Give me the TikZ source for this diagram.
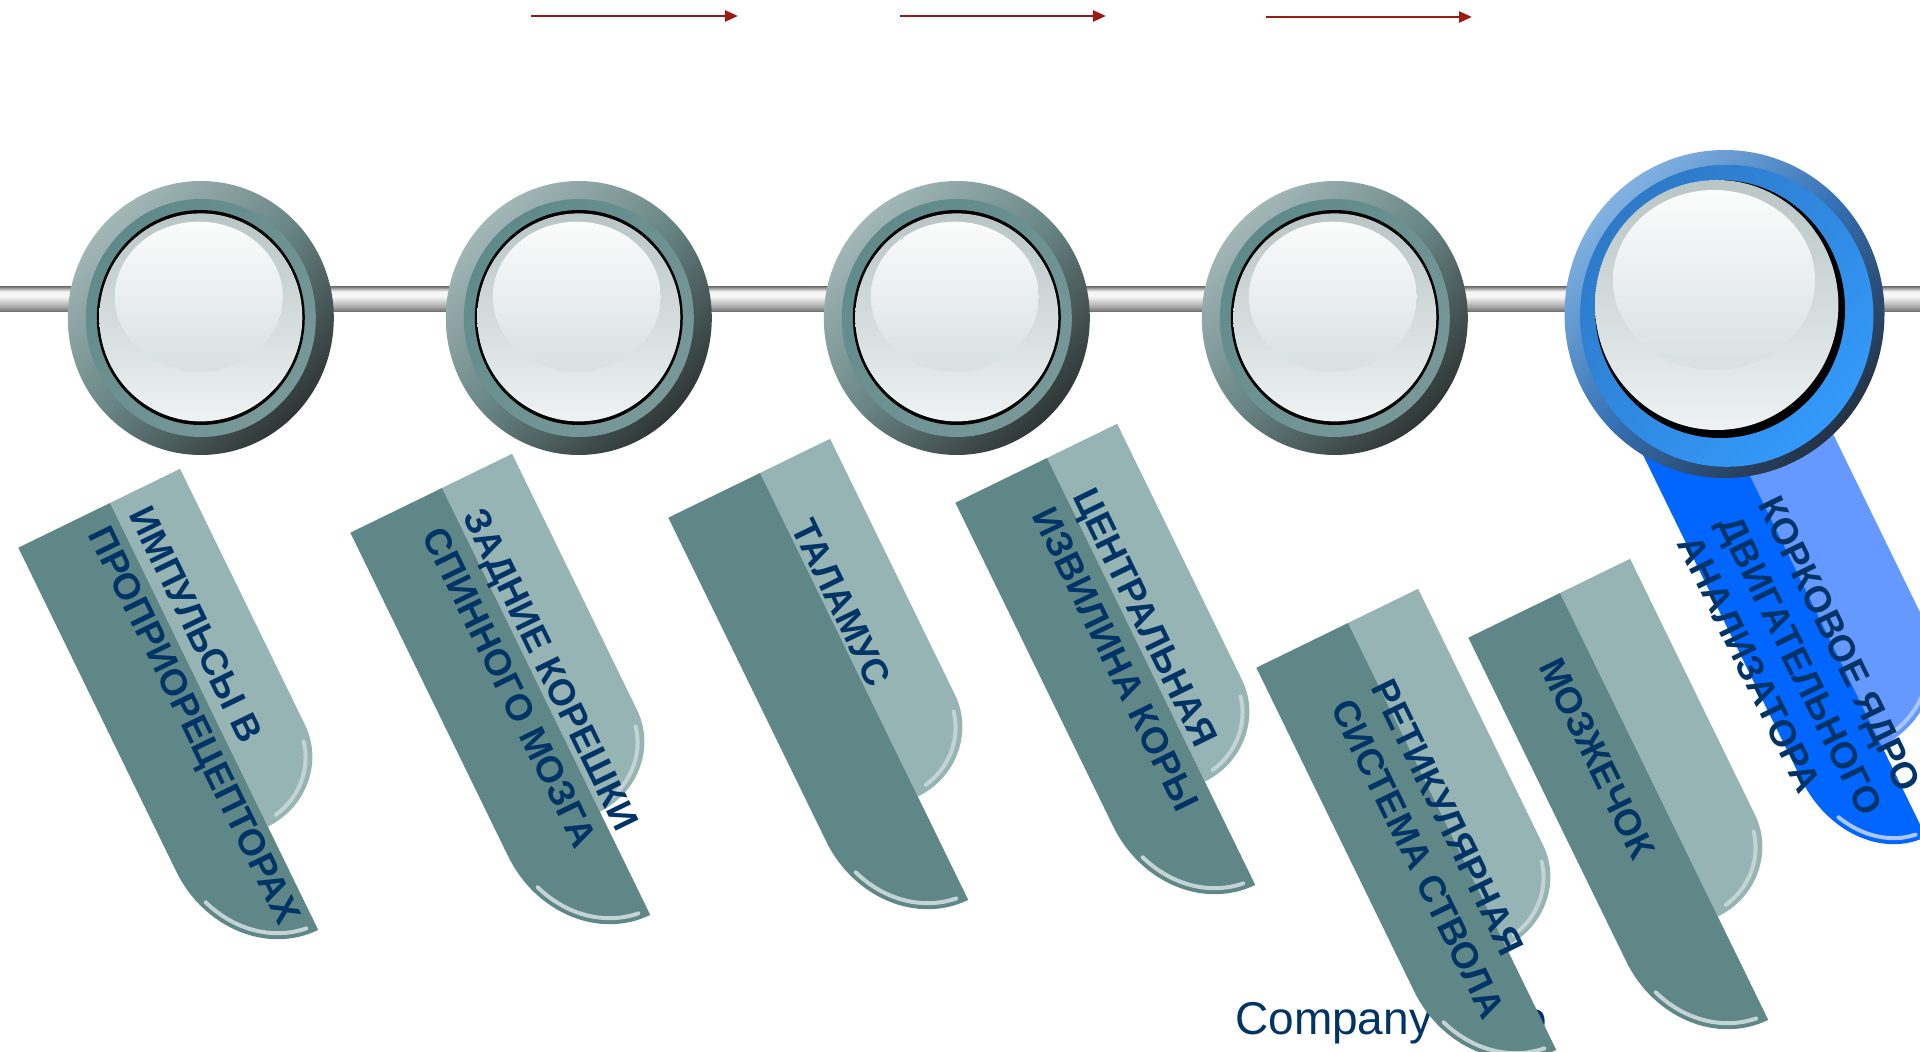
\documentclass[tikz,border=0pt]{standalone}
\usepackage{fontspec}
\setmainfont{Liberation Sans}
\usetikzlibrary{arrows.meta}

\definecolor{tabdark}{RGB}{95,135,135}
\definecolor{tablight}{RGB}{151,180,180}
\definecolor{tabshine}{RGB}{196,212,212}
\definecolor{bluedark}{RGB}{0,102,255}
\definecolor{bluelight}{RGB}{102,153,255}
\definecolor{blueshine}{RGB}{170,198,255}
\definecolor{labelblue}{RGB}{0,51,102}
\definecolor{arrowred}{RGB}{155,27,18}
\definecolor{ringlight}{RGB}{163,183,183}
\definecolor{ringmid}{RGB}{104,132,132}
\definecolor{ringdark}{RGB}{48,54,54}
\definecolor{ringteal}{RGB}{96,138,138}
\definecolor{ringteal2}{RGB}{120,152,152}
\definecolor{blueringlight}{RGB}{130,178,226}
\definecolor{blueringmid}{RGB}{52,112,180}
\definecolor{blueringdark}{RGB}{36,50,68}
\definecolor{bluering}{RGB}{46,122,200}
\definecolor{bluering2}{RGB}{51,153,250}
\definecolor{disctop}{RGB}{186,197,197}
\definecolor{discbot}{RGB}{238,242,242}
\definecolor{glosstop}{RGB}{251,252,252}
\definecolor{glossbot}{RGB}{216,224,224}
\definecolor{rodlo}{RGB}{104,104,104}
\definecolor{rodmid}{RGB}{170,170,170}
\definecolor{rodhi}{RGB}{246,246,246}
\definecolor{rodtop}{RGB}{128,128,128}

\pgfdeclareverticalshading{rodshade}{100bp}{color(0bp)=(rodlo); color(25bp)=(rodlo); color(36bp)=(rodmid); color(56bp)=(rodhi); color(66bp)=(rodhi); color(75bp)=(rodtop); color(100bp)=(rodtop)}

\begin{document}
\begin{tikzpicture}[x=1pt, y=1pt,
  tablabel/.style={font=\bfseries\fontsize{37}{45}\selectfont, text=labelblue, align=left, inner sep=0pt, rotate=-64, anchor=west},
  shine/.style={line width=4pt, line cap=round},
  flow/.style={arrowred, line width=2.5pt, -{Triangle[length=13pt,width=11pt]}}]

\useasboundingbox (0,0) rectangle (1920,1052);
\clip (0,0) rectangle (1920,1052);

\node [font=\fontsize{46}{50}\selectfont, text=labelblue, inner sep=0pt, anchor=base west] (logo) at (1235,17) {Company Logo};

\coordinate (a1s) at (531,1036);  \coordinate (a1e) at (738,1036);
\coordinate (a2s) at (900,1036);  \coordinate (a2e) at (1106,1036);
\coordinate (a3s) at (1266,1035); \coordinate (a3e) at (1472,1035);
\draw [flow] (a1s) -- (a1e);
\draw [flow] (a2s) -- (a2e);
\draw [flow] (a3s) -- (a3e);

\shade [shading=rodshade] (0,740) rectangle (1920,765);

\foreach \cx in {200.8,578.8,956.8,1334.8} {
\begin{scope}[shift={(\cx,734)}]
\shade [top color=ringlight, bottom color=ringdark, middle color=ringmid, shading angle=45] (0,0) ellipse [x radius=133, y radius=137];
\shade [top color=ringteal, bottom color=ringteal2, shading angle=45] (0,0) ellipse [x radius=115, y radius=119];
\fill [black] (0,0.5) ellipse [x radius=104, y radius=107.5];
\shade [top color=disctop, bottom color=discbot] (0,0.6) ellipse [x radius=101.5, y radius=104];
\shade [top color=glosstop, bottom color=glossbot] (-2,21.3) ellipse [x radius=84, y radius=75];
\end{scope}
}

\foreach \tx/\ty/\tu/\tv/\nm/\txt in {
  110/549/18/-2/impulse/{ИМПУЛЬСЫ В\\ПРОПРИОРЕЦЕПТОРАХ},
  442/564/34/-4/roots/{ЗАДНИЕ КОРЕШКИ\\СПИННОГО МОЗГА},
  760/579/62/16/thalamus/{ТАЛАМУС},
  1047/594/45/-4/gyrus/{ЦЕНТРАЛЬНАЯ\\ИЗВИЛИНА КОРЫ},
  1348/429/68/-18/reticular/{РЕТИКУЛЯРНАЯ\\СИСТЕМА СТВОЛА},
  1560/459/56/-39/cerebellum/{МОЗЖЕЧОК}} {
\begin{scope}[shift={(\tx,\ty)}, rotate=-64]
\fill [tablight] (0,0) -- (0,78) -- (285,78) arc [start angle=90, end angle=0, x radius=75, y radius=78] -- cycle;
\draw [tabshine, shine] (285,0) ++(78:69 and 71) arc [start angle=78, end angle=10, x radius=69, y radius=71];
\fill [tabdark] (0,0) -- (0,-102) -- (360,-102) arc [start angle=270, end angle=360, x radius=115, y radius=102] -- cycle;
\draw [tabshine, shine] (360,0) ++(292:109 and 96) arc [start angle=292, end angle=354, x radius=109, y radius=96];
\node [tablabel] (\nm) at (\tu,\tv) {\txt};
\end{scope}
}

\begin{scope}[shift={(1713,652)}, rotate=-64]
\fill [bluelight] (0,0) -- (0,93) -- (295,93) arc [start angle=90, end angle=0, x radius=90, y radius=93] -- cycle;
\draw [blueshine, shine] (295,0) ++(60:84 and 87) arc [start angle=60, end angle=10, x radius=84, y radius=87];
\fill [bluedark] (0,0) -- (0,-87) -- (380,-87) arc [start angle=270, end angle=360, x radius=106, y radius=87] -- cycle;
\draw [blueshine, shine] (380,0) ++(300:100 and 81) arc [start angle=300, end angle=354, x radius=100, y radius=81];
\node [tablabel] (cortex) at (113,-38) {КОРКОВОЕ ЯДРО\\ДВИГАТЕЛЬНОГО\\АНАЛИЗАТОРА};
\end{scope}

\begin{scope}[shift={(1724.5,738)}]
\shade [top color=blueringlight, bottom color=blueringdark, middle color=blueringmid, shading angle=45] (0,0) ellipse [x radius=160, y radius=164];
\shade [top color=bluering, bottom color=bluering2, shading angle=45] (2.2,-1.8) ellipse [x radius=146.7, y radius=151];
\fill [black] (-4.5,5) ellipse [x radius=125, y radius=129];
\shade [top color=disctop, bottom color=discbot] (-7.8,9) ellipse [x radius=121.7, y radius=125];
\shade [top color=glosstop, bottom color=glossbot] (-10.5,34) ellipse [x radius=101, y radius=90];
\end{scope}

\end{tikzpicture}
\end{document}
